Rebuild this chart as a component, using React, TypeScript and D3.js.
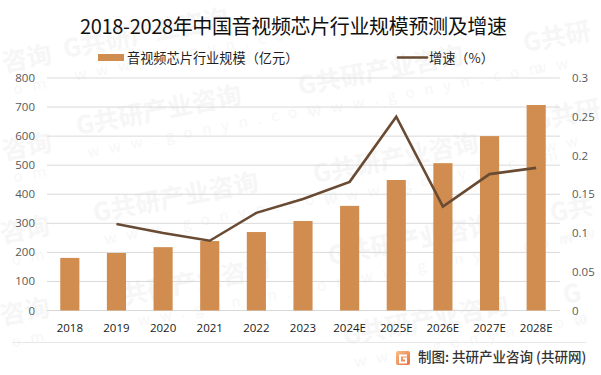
import React from "react";
import * as d3 from "d3";

const categories = ["2018","2019","2020","2021","2022","2023","2024E","2025E","2026E","2027E","2028E"];
const sizeValues = [181,198,218,239,270,308,360,449,507,600,707];
const growthValues: (number|null)[] = [null,0.1116,0.1,0.09,0.126,0.144,0.166,0.25,0.134,0.176,0.184];
const leftTicks = [0,100,200,300,400,500,600,700,800];
const rightTicks = [0,0.05,0.1,0.15,0.2,0.25,0.3];
const watermarks: [number,number,string,string][] = [
  [65,58,"G共研产业咨询","www.gonyn.com"],
  [78,135,"G共研产业咨询","www.gonyn.com"],
  [95,222,"G共研产业咨询","www.gonyn.com"],
  [107,308,"G共研产业咨询","www.gonyn.com"],
  [300,95,"G共研产业咨询","www.gonyn.com"],
  [315,183,"G共研产业咨询","www.gonyn.com"],
  [330,265,"G共研产业咨询","www.gonyn.com"],
  [345,345,"G共研产业咨询","www.gonyn.com"],
  [525,52,"G共研","ww"],
  [535,130,"G共研","ww"],
  [552,222,"G共","ww"],
  [565,304,"G","w"],
  [4,72,"咨询","om"],
  [4,160,"咨询","om"],
  [2,243,"咨询","om"],
  [2,325,"咨询","om"],
];
const FONT = "'Noto Sans CJK SC','Noto Sans',sans-serif";

export default function App() {
  const width = 601, height = 375;
  const x = d3.scaleBand<string>().domain(categories).range([46.5,559.5]).paddingInner(0.59).paddingOuter(0.295);
  const yL = d3.scaleLinear().domain([0,800]).range([310.5,78]);
  const yR = d3.scaleLinear().domain([0,0.3]).range([310.5,78]);
  const cx = (c:string)=> (x(c) as number)+x.bandwidth()/2;
  const line = d3.line<number|null>()
    .defined(d=>d!==null)
    .x((_,i)=>cx(categories[i]))
    .y(d=>yR(d as number));
  return (
    <svg width={width} height={height} viewBox={`0 0 ${width} ${height}`}
      style={{position:"absolute",left:0,top:0,background:"#fff",fontFamily:FONT}}>
      <defs>
        <linearGradient id="logo" x1="0" y1="0" x2="1" y2="1">
          <stop offset="0" stopColor="#f7c08a"/><stop offset="1" stopColor="#ee6a35"/>
        </linearGradient>
      </defs>
      {watermarks.map(([wx,wy,a,b],i)=>(
        <g key={i} transform={`translate(${wx},${wy}) rotate(-11)`}>
          <text x={0} y={0} fontSize={25} fontWeight={700} fill="#f6f6f6">{a}</text>
          <text x={6} y={24} fontSize={15} letterSpacing={10} fill="#f7f7f7">{b}</text>
        </g>
      ))}
      {leftTicks.map(t=>(
        <line key={t} x1={47} x2={560} y1={yL(t)} y2={yL(t)} stroke="#d9d9d9" strokeWidth={1}/>
      ))}
      {categories.map((c,i)=>(
        <rect key={c} x={x(c)} y={yL(sizeValues[i])} width={x.bandwidth()} height={yL(0)-yL(sizeValues[i])} fill="#d18d50"/>
      ))}
      <path d={line(growthValues) as string} fill="none" stroke="#694a33" strokeWidth={2.6} strokeLinejoin="miter"/>
      {leftTicks.map(t=>(
        <text key={t} x={35} y={yL(t)+4} textAnchor="end" fontSize={11.5} fill="#595959" fontFamily="'Open Sans',sans-serif">{t}</text>
      ))}
      {rightTicks.map(t=>(
        <text key={t} x={572} y={yR(t)+4} fontSize={11.5} fill="#595959" fontFamily="'Open Sans',sans-serif">{t}</text>
      ))}
      {categories.map(c=>(
        <text key={c} x={cx(c)} y={332} textAnchor="middle" fontSize={11.5} fill="#1a1a1a" fontFamily="'Open Sans',sans-serif">{c}</text>
      ))}
      <text x={80} y={34} fontSize={20} fill="#111" textLength={427} lengthAdjust="spacing">2018-2028年中国音视频芯片行业规模预测及增速</text>
      <rect x={98} y={54} width={26} height={7} fill="#d18d50"/>
      <text x={127} y={63} fontSize={13.2} fill="#1f1f1f">音视频芯片行业规模（亿元）</text>
      <line x1={398} x2={427} y1={57.5} y2={57.5} stroke="#694a33" strokeWidth={2.6} strokeLinecap="round"/>
      <text x={429} y={63} fontSize={13.2} fill="#1f1f1f">增速（%）</text>
      <line x1={13} x2={586} y1={342.5} y2={342.5} stroke="#e8e8e8" strokeWidth={1}/>
      <rect x={396} y={351} width={14} height={14} rx={2} fill="url(#logo)"/>
      <path d="M399 354.5h8v2h-6v5h4v-2h-2v-2h4v6h-8z" fill="#fff"/>
      <text x={418} y={362} fontSize={13.5} fill="#333" fontWeight={500}>制图: 共研产业咨询 (共研网)</text>
    </svg>
  );
}
